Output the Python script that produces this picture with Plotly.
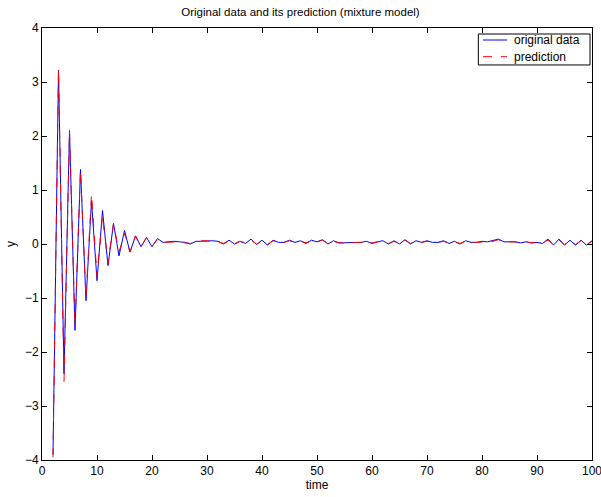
import plotly.graph_objects as go

time = list(range(2, 101))
original = [
    -3.9, 3.22, -2.4, 2.1, -1.6, 1.38, -1.05, 0.8, -0.68, 0.62,
    -0.4, 0.38, -0.22, 0.25, -0.15, 0.15, -0.05, 0.12, -0.05, 0.1,
    0.03, 0.04, 0.05, 0.04, 0.03, 0.0, 0.05, 0.05, 0.06, 0.06,
    0.05, 0.0, 0.07, 0.0, 0.05, 0.01, 0.09, -0.01, 0.07, -0.02,
    0.07, 0.03, 0.03, 0.07, 0.03, 0.06, 0.01, 0.07, 0.04, 0.08,
    0.0, 0.06, 0.02, 0.02, 0.02, 0.02, 0.03, 0.05, 0.01, 0.04,
    0.06, 0.0, 0.06, 0.0, 0.08, 0.0, 0.06, 0.03, 0.06, 0.03,
    0.03, 0.06, 0.01, 0.05, 0.0, 0.06, 0.03, 0.03, 0.05, 0.04,
    0.06, 0.09, 0.04, 0.04, 0.04, 0.02, 0.04, 0.02, 0.03, 0.01,
    0.09, -0.02, 0.09, -0.02, 0.07, -0.02, 0.07, -0.02, 0.06,
]
prediction = [
    -3.95, 3.25, -2.55, 2.1, -1.55, 1.38, -1.0, 0.93, -0.6, 0.52,
    -0.35, 0.38, -0.15, 0.2, -0.15, 0.15, -0.05, 0.12, -0.04, 0.08,
    0.03, 0.03, 0.04, 0.04, 0.02, 0.01, 0.04, 0.06, 0.06, 0.05,
    0.04, 0.01, 0.05, 0.01, 0.05, 0.02, 0.07, 0.0, 0.06, -0.01,
    0.06, 0.03, 0.03, 0.06, 0.03, 0.05, 0.02, 0.06, 0.04, 0.07,
    0.01, 0.05, 0.02, 0.02, 0.02, 0.02, 0.03, 0.04, 0.02, 0.04,
    0.05, 0.01, 0.05, 0.01, 0.07, 0.01, 0.05, 0.03, 0.05, 0.03,
    0.03, 0.05, 0.02, 0.04, 0.01, 0.05, 0.03, 0.03, 0.04, 0.04,
    0.05, 0.08, 0.04, 0.04, 0.04, 0.02, 0.04, 0.02, 0.03, 0.02,
    0.07, -0.01, 0.07, -0.01, 0.06, -0.01, 0.06, -0.01, 0.05,
]
series_names = ["original data", "prediction"]
series_colors = ["#0000ff", "#ff0000"]
series_dash = ["solid", "dash"]

xticks = [0, 10, 20, 30, 40, 50, 60, 70, 80, 90, 100]
yticks = [-4, -3, -2, -1, 0, 1, 2, 3, 4]

fig = go.Figure()
for ys, name, col, dsh in zip([original, prediction], series_names, series_colors, series_dash):
    fig.add_trace(go.Scatter(x=time, y=ys, mode="lines", name=name, showlegend=False,
                             line=dict(color=col, width=1, dash=dsh)))

axis_common = dict(showgrid=False, zeroline=False, showline=True, linecolor="black",
                   linewidth=1, mirror="ticks", ticks="inside", ticklen=5,
                   tickcolor="black", tickfont=dict(size=12, color="black"),
                   ticklabeloverflow="allow", automargin=False)

# manual legend (MATLAB style compact box)
shapes = [dict(type="rect", xref="paper", yref="paper", x0=0.7933, x1=0.9964,
               y0=0.9144, y1=0.9861, line=dict(color="black", width=1),
               fillcolor="white", layer="above")]
annotations = []
leg_y = [0.9722, 0.9336]
for name, col, dsh, ly in zip(series_names, series_colors, series_dash, leg_y):
    shapes.append(dict(type="line", xref="paper", yref="paper", x0=0.8018, x1=0.8455,
                       y0=ly, y1=ly, line=dict(color=col, width=1, dash=dsh), layer="above"))
    annotations.append(dict(xref="paper", yref="paper", x=0.8545, y=ly, xanchor="left",
                            yanchor="middle", text=name, showarrow=False,
                            font=dict(size=12, color="black")))

fig.update_layout(
    width=601, height=497,
    margin=dict(l=42, r=9, t=28, b=37),
    paper_bgcolor="white", plot_bgcolor="white",
    font=dict(family="Liberation Sans, Arial, sans-serif", size=12, color="black"),
    title=dict(text="Original data and its prediction (mixture model)",
               x=0.5, xanchor="center", y=0.985, yanchor="top",
               font=dict(size=11.5)),
    xaxis=dict(range=[0, 100], tickvals=xticks,
               title=dict(text="time", standoff=2, font=dict(size=12)),
               **axis_common),
    yaxis=dict(range=[-4, 4], tickvals=yticks,
               title=dict(text="y", standoff=6, font=dict(size=12)),
               **axis_common),
    shapes=shapes,
    annotations=annotations,
    showlegend=False,
)

fig.write_html("out.html")
